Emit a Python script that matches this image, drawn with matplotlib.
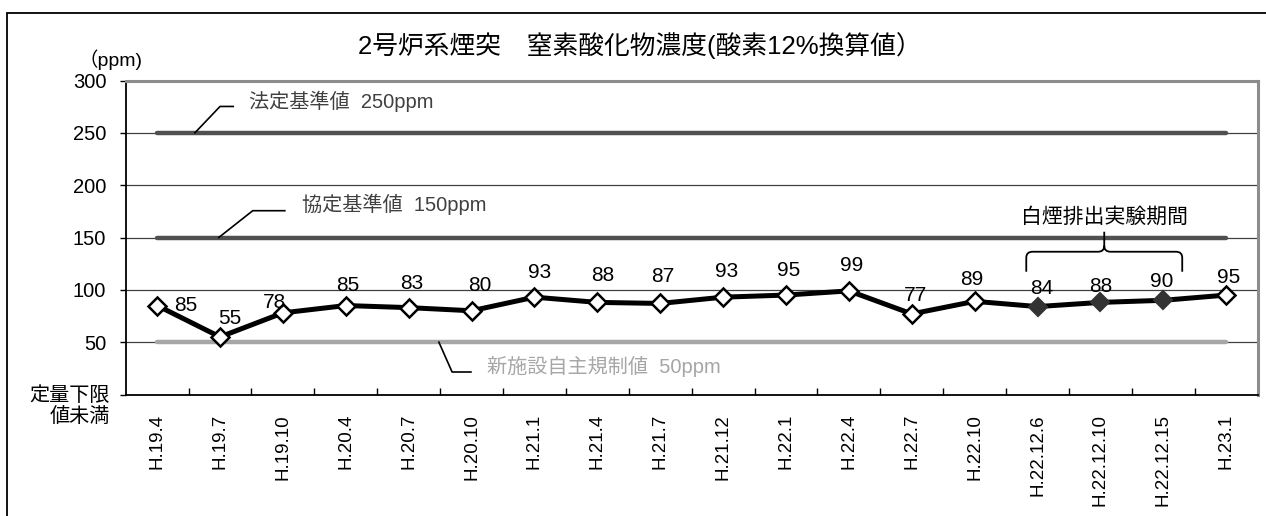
import numpy as np
import matplotlib
matplotlib.use('Agg')
import matplotlib.pyplot as plt
from matplotlib.path import Path
from matplotlib.patches import PathPatch, Rectangle

plt.rcParams['font.family'] = ['Liberation Sans', 'Noto Sans CJK JP']
plt.rcParams['axes.unicode_minus'] = False

# --- データ ---
dates = ['H.19.4', 'H.19.7', 'H.19.10', 'H.20.4', 'H.20.7', 'H.20.10', 'H.21.1',
         'H.21.4', 'H.21.7', 'H.21.12', 'H.22.1', 'H.22.4', 'H.22.7', 'H.22.10',
         'H.22.12.6', 'H.22.12.10', 'H.22.12.15', 'H.23.1']
nox = [85, 55, 78, 85, 83, 80, 93, 88, 87, 93, 95, 99, 77, 89, 84, 88, 90, 95]
white_smoke = [False] * 14 + [True, True, True] + [False]

legal_limit = 250
agreed_limit = 150
voluntary_limit = 50
y_ticks = [0, 50, 100, 150, 200, 250, 300]
y_ticklabels = ['', '50', '100', '150', '200', '250', '300']

# ラベル位置の微調整 (pixel)
label_offsets = [(29, 0), (10, 18), (-8, 10), (2, 20), (3, 24), (8, 25), (5, 25),
                 (5, 27), (2, 27), (3, 26), (3, 25), (3, 25), (4, 18), (-3, 22),
                 (4, 18), (0, 16), (-2, 19), (2, 18)]

W, H = 1266, 516
fig = plt.figure(figsize=(W / 100, H / 100), dpi=100)
ax = fig.add_axes([125.7 / W, 1 - 394.5 / H, (1257.7 - 125.7) / W, (394.5 - 80.5) / H])

x = np.arange(len(dates))

# 基準線
first, last = x[0], x[-1]
ax.plot([first, last], [legal_limit] * 2, color='#505050', lw=3.2, solid_capstyle='round', zorder=2)
ax.plot([first, last], [agreed_limit] * 2, color='#505050', lw=3.2, solid_capstyle='round', zorder=2)
ax.plot([first, last], [voluntary_limit] * 2, color='#a6a6a6', lw=3.2, solid_capstyle='round', zorder=2)

# 測定値
ax.plot(x, nox, color='black', lw=3.6, zorder=3)
for xi, v, filled in zip(x, nox, white_smoke):
    if filled:
        ax.plot(xi, v, marker='D', ms=9.5, mfc='#333333', mec='#333333', mew=1.5, zorder=4)
    else:
        ax.plot(xi, v, marker='D', ms=9.5, mfc='white', mec='black', mew=1.8, zorder=4)

for xi, v, (dx, dy) in zip(x, nox, label_offsets):
    ax.annotate(str(v), (xi, v), xytext=(dx, dy), textcoords='offset pixels',
                ha='center', va='center', fontsize=15, zorder=5)

# 引出線と注記
ax.plot([0.6, 1.0, 1.21], [250, 275.2, 275.2], color='black', lw=1.2, zorder=3)
ax.text(1.46, 280, '法定基準値  250ppm', fontsize=14.5, color='#404040', ha='left', va='center')
ax.plot([0.98, 1.52, 2.03], [150, 175.6, 175.6], color='black', lw=1.2, zorder=3)
ax.text(2.30, 182, '協定基準値  150ppm', fontsize=14.5, color='#404040', ha='left', va='center')
ax.plot([4.48, 4.69, 4.99], [50, 21.5, 21.5], color='black', lw=1.2, zorder=3)
ax.text(5.24, 27.2, '新施設自主規制値  50ppm', fontsize=14.5, color='#a6a6a6', ha='left', va='center')

# 白煙排出実験期間の括弧
xl, xc, xr = 13.82, 15.06, 16.30
yb, yh, yt = 117.3, 136.4, 155.5
rx, ry = 0.1, 5.7
verts = [(xl, yb), (xl, yh - ry), (xl, yh), (xl + rx, yh), (xc - rx, yh), (xc, yh), (xc, yh + ry), (xc, yt),
         (xc, yh + ry), (xc, yh), (xc + rx, yh), (xr - rx, yh), (xr, yh), (xr, yh - ry), (xr, yb)]
codes = [Path.MOVETO, Path.LINETO, Path.CURVE3, Path.CURVE3, Path.LINETO, Path.CURVE3, Path.CURVE3, Path.LINETO,
         Path.MOVETO, Path.CURVE3, Path.CURVE3, Path.LINETO, Path.CURVE3, Path.CURVE3, Path.LINETO]
ax.add_patch(PathPatch(Path(verts, codes), fill=False, lw=1.3, color='black', zorder=3))
ax.text(xc, 169.9, '白煙排出実験期間', fontsize=15, ha='center', va='center')

# 軸
ax.set_xlim(-0.5, len(dates) - 0.5)
ax.set_ylim(0, 300)
ax.set_yticks(y_ticks)
ax.set_yticklabels(y_ticklabels, fontsize=14.5)
ax.set_xticks(x)
ax.set_xticklabels(dates, rotation=90, fontsize=13.5, va='top')
ax.set_xticks(np.arange(0.5, len(dates) - 1, 1), minor=True)
ax.tick_params(axis='x', which='major', length=0, pad=14)
ax.tick_params(axis='x', which='minor', direction='in', length=5, width=1)
ax.tick_params(axis='y', length=4, width=1, pad=10)
ax.yaxis.grid(True, color='#404040', lw=0.9)
ax.set_axisbelow(True)
for s in ['top', 'right']:
    ax.spines[s].set_color('#8c8c8c')
    ax.spines[s].set_linewidth(2.2)
for s in ['left', 'bottom']:
    ax.spines[s].set_color('black')
    ax.spines[s].set_linewidth(1.3)

fig.text(110 / W, 1 - 386 / H, '定量下限\n値未満', fontsize=14.5, ha='right', va='top',
         multialignment='right', linespacing=1.15)
fig.text(110 / W, 1 - 60 / H, '（ppm)', fontsize=14, ha='center', va='center')
fig.text(640 / W, 1 - 46 / H, '2号炉系煙突　窒素酸化物濃度(酸素12%換算値）', fontsize=18.5,
         ha='center', va='center')

# 外枠
fig.add_artist(Rectangle((7 / W, -0.1), 2, 1.1 - 13 / H, transform=fig.transFigure,
                         fill=False, lw=1.3, color='black'))

fig.savefig('out.png', dpi=100)
